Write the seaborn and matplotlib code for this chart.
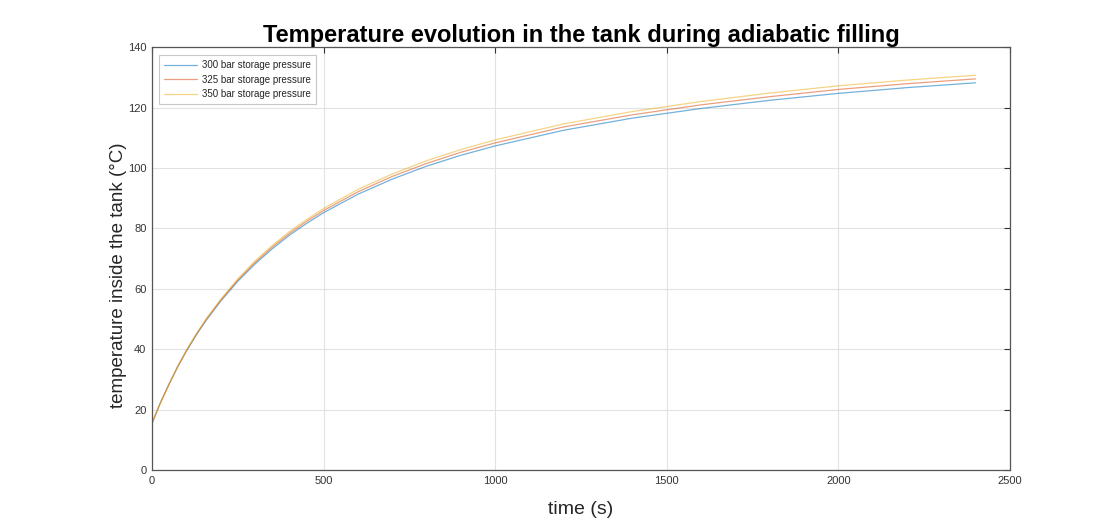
import pandas as pd
from matplotlib import pyplot as plt
import seaborn as sns

# time samples (s) and temperatures (degC)
time_s = [0, 10, 25, 50, 75, 100, 130, 160, 200, 250, 300, 350, 400, 450, 500, 600,
          700, 800, 900, 1000, 1200, 1400, 1600, 1800, 2000, 2200, 2400]
temp_300 = [15.5, 18.3, 22.4, 28.5, 34.2, 39.3, 44.9, 49.9, 55.9, 62.5, 68.2, 73.2,
            77.7, 81.6, 85.2, 91.3, 96.3, 100.6, 104.2, 107.3, 112.5, 116.5, 119.7,
            122.4, 124.7, 126.6, 128.2]
temp_325 = [15.5, 18.3, 22.4, 28.5, 34.3, 39.5, 45.1, 50.2, 56.2, 62.9, 68.7, 73.8,
            78.3, 82.3, 85.9, 92.1, 97.2, 101.5, 105.2, 108.3, 113.6, 117.6, 120.9,
            123.6, 126.0, 127.9, 129.5]
temp_350 = [15.5, 18.3, 22.4, 28.6, 34.4, 39.6, 45.3, 50.4, 56.5, 63.3, 69.2, 74.3,
            78.9, 82.9, 86.6, 92.9, 98.0, 102.4, 106.1, 109.3, 114.6, 118.7, 122.0,
            124.8, 127.2, 129.1, 130.7]
labels = ['300 bar storage pressure', '325 bar storage pressure', '350 bar storage pressure']

frames = []
for lab_, vals in zip(labels, [temp_300, temp_325, temp_350]):
    frames.append(pd.DataFrame({'time': time_s, 'temp': vals, 'series': lab_}))
df = pd.concat(frames, ignore_index=True)

sns.set_style('whitegrid')
plt.rcParams['font.family'] = ['Liberation Sans', 'DejaVu Sans']

fig = plt.figure(figsize=(11.04, 5.24), dpi=100)
ax = fig.add_axes([0.1377, 0.103, 0.777, 0.807])

palette = {labels[0]: '#0072BD', labels[1]: '#D95319', labels[2]: '#EDB120'}
sns.lineplot(data=df, x='time', y='temp', hue='series', palette=palette,
             linewidth=0.9, alpha=0.55, ax=ax)

ax.set_xlim(0, 2500)
ax.set_ylim(0, 140)
ax.set_xticks(range(0, 2501, 500))
ax.set_yticks(range(0, 141, 20))
ax.grid(True, color='#e2e2e2', linewidth=0.8)
for s in ax.spines.values():
    s.set_color('#555555')
    s.set_linewidth(0.9)
ax.tick_params(direction='in', top=True, right=True, length=4, width=0.8,
               labelsize=8, colors='#333333', pad=4)

ax.set_xlabel('time (s)', fontsize=14, color='#262626', labelpad=11)
ax.set_ylabel('temperature inside the tank (°C)', fontsize=13.5, color='#262626')
ax.yaxis.set_label_coords(-0.029, 0.46)
ax.set_title('Temperature evolution in the tank during adiabatic filling',
             fontsize=17, fontweight='bold', color='black', pad=4)

leg = ax.legend(loc='upper left', fontsize=7, frameon=True, fancybox=False,
                edgecolor='#bbbbbb', borderpad=0.5, handlelength=3.4,
                handletextpad=0.5, labelspacing=0.45,
                bbox_to_anchor=(0.003, 0.992))
leg.get_frame().set_linewidth(0.8)
for line in leg.get_lines():
    line.set_linewidth(0.9)

fig.savefig('out.png', dpi=100, facecolor='white')
